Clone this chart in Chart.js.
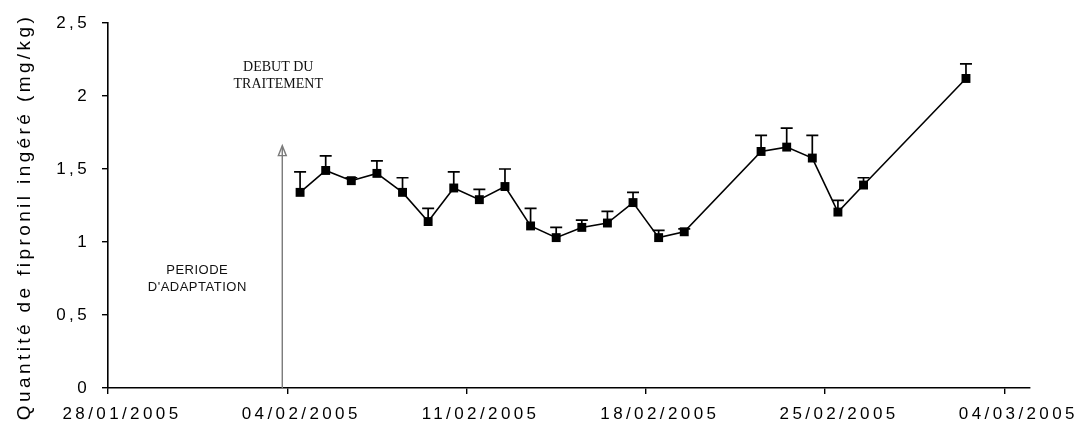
<!DOCTYPE html>
<html>
<head>
<meta charset="utf-8">
<script src="https://cdn.jsdelivr.net/npm/chart.js@4/dist/chart.umd.min.js"></script>
<style>
  html, body { margin: 0; padding: 0; background: #fff; }
  #wrap { width: 1077px; height: 425px; position: relative; }
</style>
</head>
<body>
<div id="wrap"><canvas id="c" width="1077" height="425"></canvas></div>
<script>
// Sampling days and mean fipronil intake (mg/kg), with upper error bar size
const sampleDates = [
  '2005-02-04','2005-02-05','2005-02-06','2005-02-07','2005-02-08','2005-02-09',
  '2005-02-10','2005-02-11','2005-02-12','2005-02-13','2005-02-14','2005-02-15',
  '2005-02-16','2005-02-17','2005-02-18','2005-02-19','2005-02-22','2005-02-23',
  '2005-02-24','2005-02-25','2005-02-26','2005-03-02'
];
const intake = [
  1.34, 1.49, 1.42, 1.47, 1.34, 1.14,
  1.37, 1.29, 1.38, 1.11, 1.03, 1.10,
  1.13, 1.27, 1.03, 1.07, 1.62, 1.65,
  1.575, 1.205, 1.39, 2.12
];
const errorUp = [
  0.14, 0.10, 0.02, 0.085, 0.10, 0.09,
  0.11, 0.07, 0.12, 0.12, 0.07, 0.05,
  0.08, 0.07, 0.05, 0.02, 0.11, 0.13,
  0.155, 0.08, 0.05, 0.10
];
const yTicks = [0, 0.5, 1, 1.5, 2, 2.5];
const axisStart = '2005-01-28';
const axisDays = 36;            // 28/01 .. 04/03 inclusive, one slot per day
const treatmentStart = '2005-02-04';

const DAY = 86400000;
function dayIndex(s) {
  const [y, m, d] = s.split('-').map(Number);
  const [y0, m0, d0] = axisStart.split('-').map(Number);
  return Math.round((Date.UTC(y, m - 1, d) - Date.UTC(y0, m0 - 1, d0)) / DAY);
}
function fmtDay(idx) {
  const [y0, m0, d0] = axisStart.split('-').map(Number);
  const dt = new Date(Date.UTC(y0, m0 - 1, d0) + idx * DAY);
  const dd = String(dt.getUTCDate()).padStart(2, '0');
  const mm = String(dt.getUTCMonth() + 1).padStart(2, '0');
  return dd + '/' + mm + '/' + dt.getUTCFullYear();
}

// each date sits in the middle of its day slot
const points = sampleDates.map((d, i) => ({ x: dayIndex(d) + 0.5, y: intake[i], e: errorUp[i] }));

const TICK_SPACING = '3.4px';
function applySpacing(chart) { chart.ctx.letterSpacing = TICK_SPACING; }

const spacingPlugin = {
  id: 'spacing',
  beforeUpdate: applySpacing,
  beforeLayout: applySpacing,
  beforeDraw: applySpacing
};

const errorBars = {
  id: 'errorBars',
  beforeDatasetsDraw(chart) {
    const ctx = chart.ctx, ys = chart.scales.y, xs = chart.scales.x;
    ctx.save();
    ctx.strokeStyle = '#000';
    ctx.lineWidth = 1.7;
    points.forEach(p => {
      const px = xs.getPixelForValue(p.x);
      const py = ys.getPixelForValue(p.y);
      const pt = ys.getPixelForValue(p.y + p.e);
      ctx.beginPath();
      ctx.moveTo(px, py);
      ctx.lineTo(px, pt);
      ctx.moveTo(px - 6, pt);
      ctx.lineTo(px + 6, pt);
      ctx.stroke();
    });
    ctx.restore();
  }
};

const decorations = {
  id: 'decorations',
  afterDraw(chart) {
    const ctx = chart.ctx, xs = chart.scales.x, ys = chart.scales.y, area = chart.chartArea;
    ctx.save();

    // vertical axis title
    ctx.letterSpacing = '3.4px';
    ctx.fillStyle = '#000';
    ctx.font = '19px "Liberation Sans", Arial, sans-serif';
    ctx.textAlign = 'center';
    ctx.textBaseline = 'middle';
    ctx.translate(25, 217);
    ctx.rotate(-Math.PI / 2);
    ctx.fillText('Quantité de fipronil ingéré (mg/kg)', 0, 0);
    ctx.setTransform(1, 0, 0, 1, 0, 0);

    // treatment start arrow
    const ax = xs.getPixelForValue(dayIndex(treatmentStart)) - 5;
    const aTop = ys.getPixelForValue(1.66);
    ctx.letterSpacing = '0px';
    ctx.strokeStyle = '#7a7a7a';
    ctx.lineWidth = 1.4;
    ctx.beginPath();
    ctx.moveTo(ax, area.bottom);
    ctx.lineTo(ax, aTop + 2);
    ctx.stroke();
    ctx.beginPath();
    ctx.moveTo(ax - 4, aTop + 10);
    ctx.lineTo(ax, aTop);
    ctx.lineTo(ax + 4, aTop + 10);
    ctx.closePath();
    ctx.stroke();

    // annotations
    ctx.fillStyle = '#111';
    ctx.textAlign = 'center';
    ctx.textBaseline = 'middle';
    ctx.font = '14px "Liberation Serif", "Times New Roman", serif';
    ctx.fillText('DEBUT DU', ax - 4, 67);
    ctx.fillText('TRAITEMENT', ax - 4, 84);
    ctx.font = '13px "Liberation Sans", Arial, sans-serif';
    ctx.letterSpacing = '0.5px';
    ctx.fillText('PERIODE', ax - 85, 270);
    ctx.fillText("D'ADAPTATION", ax - 85, 287);
    ctx.restore();
  }
};

new Chart(document.getElementById('c'), {
  type: 'line',
  data: {
    datasets: [{
      data: points,
      parsing: { xAxisKey: 'x', yAxisKey: 'y' },
      borderColor: '#000',
      borderWidth: 1.6,
      backgroundColor: '#000',
      pointStyle: 'rect',
      pointRadius: 6.3,
      pointBorderWidth: 0,
      tension: 0
    }]
  },
  options: {
    responsive: false,
    animation: false,
    devicePixelRatio: 1,
    layout: { padding: { top: 23, right: 47, left: 0, bottom: 0 } },
    plugins: { legend: { display: false }, tooltip: { enabled: false } },
    scales: {
      x: {
        type: 'linear',
        min: 0,
        max: axisDays,
        afterBuildTicks(scale) {
          const t = [];
          for (let v = 0; v < axisDays; v += 7) t.push({ value: v });
          scale.ticks = t;
        },
        afterFit(scale) { scale.height = 37; },
        border: { display: true, color: '#000', width: 1.6 },
        grid: { display: true, drawOnChartArea: false, drawTicks: true, tickLength: 6, color: '#000', lineWidth: 1.4 },
        ticks: {
          color: '#000',
          font: { family: '"Liberation Sans", Arial, sans-serif', size: 17 },
          padding: 10,
          labelOffset: 14,
          maxRotation: 0,
          autoSkip: false,
          callback: v => fmtDay(v)
        }
      },
      y: {
        min: 0,
        max: 2.5,
        afterBuildTicks(scale) { scale.ticks = yTicks.map(v => ({ value: v })); },
        afterFit(scale) { scale.width = 108; },
        border: { display: true, color: '#000', width: 1.6 },
        grid: { display: true, drawOnChartArea: false, drawTicks: true, tickLength: 6, color: '#000', lineWidth: 1.4 },
        ticks: {
          color: '#000',
          font: { family: '"Liberation Sans", Arial, sans-serif', size: 17 },
          padding: 12,
          callback: v => String(v).replace('.', ',')
        }
      }
    }
  },
  plugins: [spacingPlugin, errorBars, decorations]
});
</script>
</body>
</html>
